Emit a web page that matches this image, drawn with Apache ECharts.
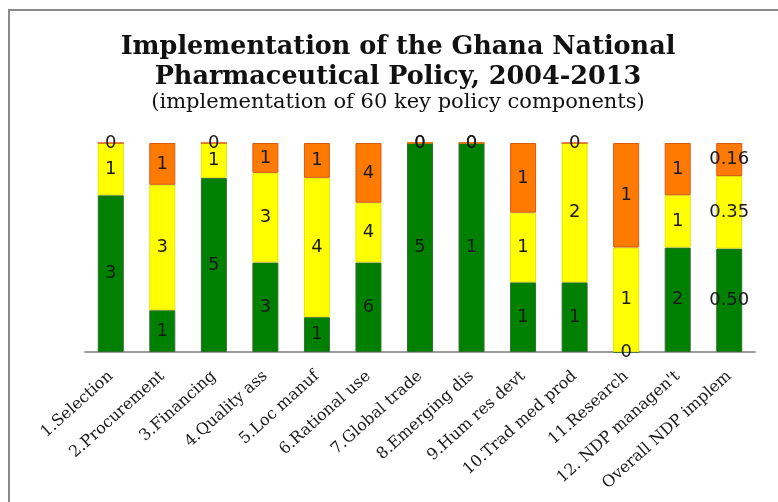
<!DOCTYPE html>
<html>
<head>
<meta charset="utf-8">
<script src="https://cdn.jsdelivr.net/npm/echarts@6/dist/echarts.min.js"></script>
<style>html,body{margin:0;padding:0;background:#fff;}#c{width:778px;height:502px;}</style>
</head>
<body>
<div id="c"></div>
<script>
var categories = ['1.Selection','2.Procurement','3.Financing','4.Quality ass','5.Loc manuf','6.Rational use','7.Global trade','8.Emerging dis','9.Hum res devt','10.Trad med prod','11.Research',"12. NDP managen't",'Overall NDP implem'];
var implemented = [3,1,5,3,1,6,5,1,1,1,0,2,0.50];
var partial     = [1,3,1,3,4,4,0,0,1,2,1,1,0.35];
var notImpl     = [0,1,0,1,1,4,0,0,1,0,1,1,0.16];
var overallIndex = 12;

function shares(arr) {
  return arr.map(function (v, i) {
    var t = implemented[i] + partial[i] + notImpl[i];
    return { value: t ? v / t : 0, raw: v };
  });
}

function fmt(p) {
  var raw = p.data.raw;
  return p.dataIndex === overallIndex ? raw.toFixed(2) : String(raw);
}

var labelStyle = {
  show: true, position: 'inside', formatter: fmt,
  fontFamily: 'DejaVu Sans', fontSize: 18, color: '#1a1a1a'
};

var chart = echarts.init(document.getElementById('c'));
chart.setOption({
  animation: false,
  backgroundColor: '#fff',
  graphic: [{
    type: 'rect', shape: { x: 9, y: 10, width: 900, height: 700 },
    style: { fill: 'none', stroke: '#8a8a8a', lineWidth: 2 }, silent: true
  }],
  title: {
    text: 'Implementation of the Ghana National\nPharmaceutical Policy, 2004-2013',
    subtext: '(implementation of 60 key policy components)',
    left: 398, top: 32, padding: 0, itemGap: 0, textAlign: 'center',
    textStyle: { fontFamily: 'DejaVu Serif', fontWeight: 'bold', fontSize: 25.5, lineHeight: 30, color: '#111' },
    subtextStyle: { fontFamily: 'DejaVu Serif', fontSize: 21, lineHeight: 22, color: '#111' }
  },
  grid: { left: 85, right: 23, top: 143, bottom: 150 },
  xAxis: {
    type: 'category', data: categories,
    axisLine: { lineStyle: { color: '#9a9a9a', width: 2 } },
    axisTick: { show: false },
    axisLabel: { interval: 0, rotate: 42, margin: 22, fontFamily: 'DejaVu Serif', fontSize: 16, color: '#1a1a1a' }
  },
  yAxis: { type: 'value', min: 0, max: 1, show: false, splitLine: { show: false } },
  series: [
    { name: 'Implemented', type: 'bar', stack: 's', barWidth: 26, data: shares(implemented),
      itemStyle: { color: '#008000', borderColor: '#2f6f2f', borderWidth: 1 }, label: labelStyle },
    { name: 'Partially', type: 'bar', stack: 's', barWidth: 26, data: shares(partial),
      itemStyle: { color: '#ffff00', borderColor: '#e6e600', borderWidth: 1 }, label: labelStyle },
    { name: 'Not implemented', type: 'bar', stack: 's', barWidth: 26, data: shares(notImpl),
      itemStyle: { color: '#ff7a00', borderColor: '#d65a10', borderWidth: 1 }, label: labelStyle }
  ]
});
</script>
</body>
</html>
